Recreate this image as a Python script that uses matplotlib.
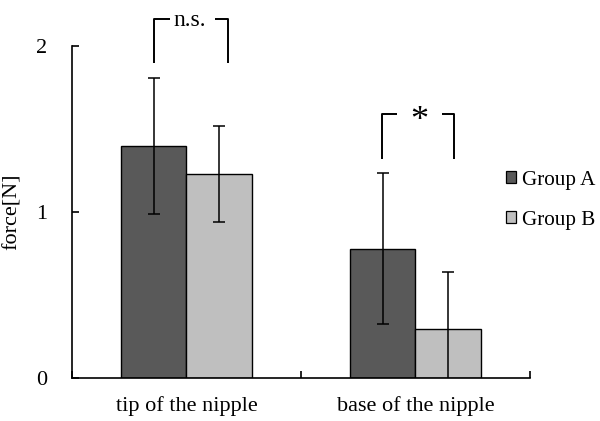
import matplotlib
matplotlib.use("Agg")
import matplotlib.pyplot as plt
from matplotlib.patches import Patch
import numpy as np

categories = ["tip of the nipple", "base of the nipple"]
groups = ["Group A", "Group B"]
group_a = [1.40, 0.78]
group_b = [1.23, 0.295]
err_a = [0.41, 0.457]
err_b = [0.29, 0.346]
colors = ["#595959", "#BFBFBF"]
yticks = [0, 1, 2]

plt.rcParams['font.family'] = ['Liberation Serif', 'DejaVu Serif']
plt.rcParams['font.size'] = 16

fig = plt.figure(figsize=(6, 4.21), dpi=100)
ax = fig.add_axes([0.12, 0.1021, 0.7633, 0.7886])

x = np.arange(len(categories))
w = 1 / 3.5
for vals, errs, off, col in [(group_a, err_a, -w / 2, colors[0]), (group_b, err_b, w / 2, colors[1])]:
    ax.bar(x + off, vals, width=w, color=col, edgecolor="black", linewidth=1.0, zorder=2)
    ax.errorbar(x + off, vals, yerr=errs, fmt="none", ecolor="black", elinewidth=1.1,
                capsize=4.5, capthick=1.1, zorder=3)

ax.set_xlim(-0.5, len(categories) - 0.5)
ax.set_ylim(0, 2)
ax.set_yticks(yticks)
ax.set_yticklabels([str(t) for t in yticks])
ax.set_xticks(x)
ax.set_xticklabels(categories)
ax.set_xticks(np.arange(-0.5, len(categories), 1.0), minor=True)
ax.tick_params(axis="x", which="major", length=0, pad=13)
ax.tick_params(axis="x", which="minor", direction="in", length=5, width=1.2)
ax.tick_params(axis="y", direction="in", length=5, width=1.2, pad=18)
for s in ["top", "right"]:
    ax.spines[s].set_visible(False)
for s in ["left", "bottom"]:
    ax.spines[s].set_linewidth(1.2)

ax.set_ylabel("force[N]")
ax.yaxis.set_label_coords(-0.109, 0.5)

def bracket(x0, x1, ytop, ybot, gl, gr, label, tx, ty, fs):
    kw = dict(color="black", lw=1.4, clip_on=False, solid_capstyle="butt")
    ax.plot([x0, x0, gl], [ybot, ytop, ytop], **kw)
    ax.plot([gr, x1, x1], [ytop, ytop, ybot], **kw)
    ax.text(tx, ty, label, ha="center", va="center", fontsize=fs, clip_on=False)

bracket(-0.1406, 0.181, 2.163, 1.899, -0.073, 0.124, "n.s.", 0.013, 2.155, 17)
bracket(0.854, 1.169, 1.588, 1.317, 0.918, 1.114, "*", 1.016, 1.545, 26)

handles = [Patch(facecolor=c, edgecolor="black", linewidth=0.9) for c in colors]
fig.legend(handles, groups, loc="center left", bbox_to_anchor=(0.843, 0.524),
           frameon=False, handlelength=0.5, handleheight=0.5, handletextpad=0.27,
           labelspacing=1.0, borderaxespad=0, borderpad=0, fontsize=15.2)

fig.savefig("out.png", dpi=100)
